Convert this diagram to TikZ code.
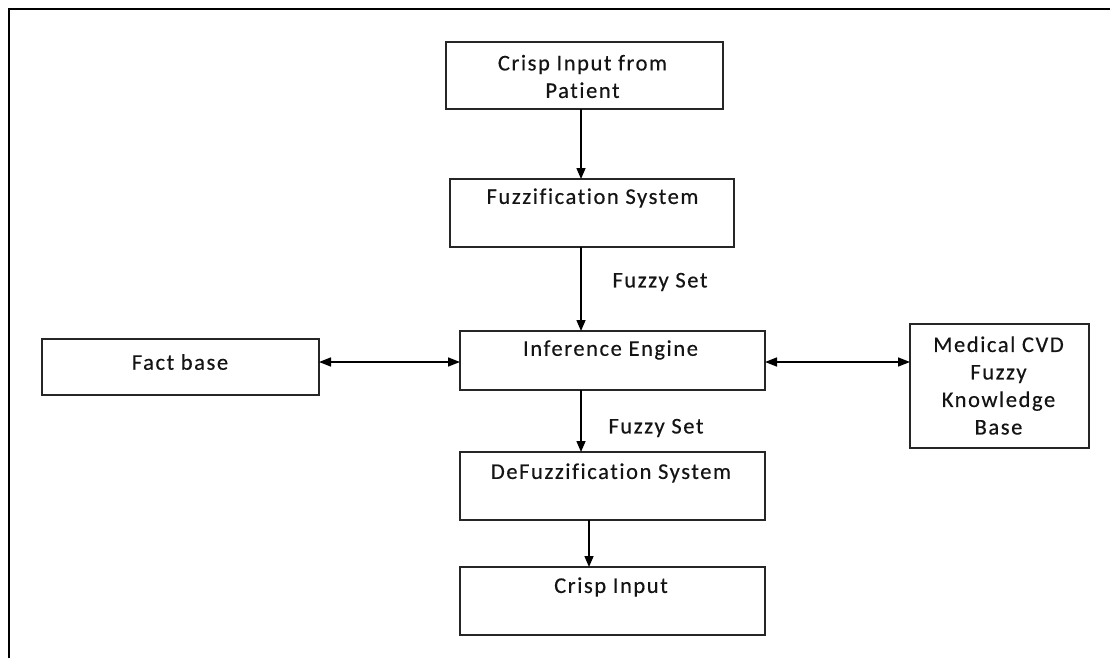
\documentclass[tikz,border=0pt]{standalone}
\usepackage{fontspec}
\setmainfont{Carlito}[LetterSpace=7,Ligatures=CommonOff,FakeBold=0.4]
\usetikzlibrary{arrows.meta}

\begin{document}
\begin{tikzpicture}[x=1pt,y=-1pt,
  box/.style={draw=black!85,line width=1.4pt,inner sep=0pt,outer sep=0pt},
  txt/.style={font=\fontsize{22.5}{27.5}\selectfont,text=black!92,align=center,inner sep=0pt},
  conn/.style={line width=1.5pt,-{Triangle[length=11pt,width=9pt]}},
  biconn/.style={line width=1.5pt,{Triangle[length=12pt,width=9pt]}-{Triangle[length=12pt,width=9pt]}}]
\useasboundingbox (0,0) rectangle (1110,658);

% outer frame (top and left edges)
\draw[line width=2.2pt] (9,658) -- (9,9) -- (1110,9);

% boxes
\node[box,minimum width=277pt,minimum height=67pt] (cip) at (584.5,75.5) {};
\node[box,minimum width=284pt,minimum height=68pt] (fuz) at (592,213) {};
\node[box,minimum width=305pt,minimum height=59pt] (inf) at (612.5,360.5) {};
\node[box,minimum width=277pt,minimum height=56pt] (fact) at (180.5,367) {};
\node[box,minimum width=179pt,minimum height=124pt] (med) at (999.5,386) {};
\node[box,minimum width=305pt,minimum height=68pt] (def) at (612.5,486) {};
\node[box,minimum width=305pt,minimum height=68pt] (cri) at (612.5,601) {};

% box texts
\node[txt] (cipt) at (582.5,76.5) {Crisp Input from\\Patient};
\node[txt] (fuzt) at (592.5,198) {Fuzzification System};
\node[txt] (inft) at (610.5,350) {Inference Engine};
\node[txt] (factt) at (180,362) {Fact base};
\node[txt] (medt) at (998.5,385.5) {Medical CVD\\Fuzzy\\Knowledge\\Base};
\node[txt] (deft) at (611,473) {DeFuzzification System};
\node[txt] (crit) at (611,587) {Crisp Input};

% connector labels
\node[txt] (fs1) at (660,282) {Fuzzy Set};
\node[txt] (fs2) at (656,428) {Fuzzy Set};

% connector columns
\coordinate (xa) at (581,0);
\coordinate (xb) at (589,0);
\coordinate (yh) at (0,362);

% connectors
\draw[conn] (cip.south -| xa) -- (fuz.north -| xa);
\draw[conn] (fuz.south -| xa) -- (inf.north -| xa);
\draw[conn] (inf.south -| xa) -- (def.north -| xa);
\draw[conn] (def.south -| xb) -- (cri.north -| xb);
\draw[biconn] (fact.east |- yh) -- (inf.west |- yh);
\draw[biconn] (inf.east |- yh) -- (med.west |- yh);
\end{tikzpicture}
\end{document}
